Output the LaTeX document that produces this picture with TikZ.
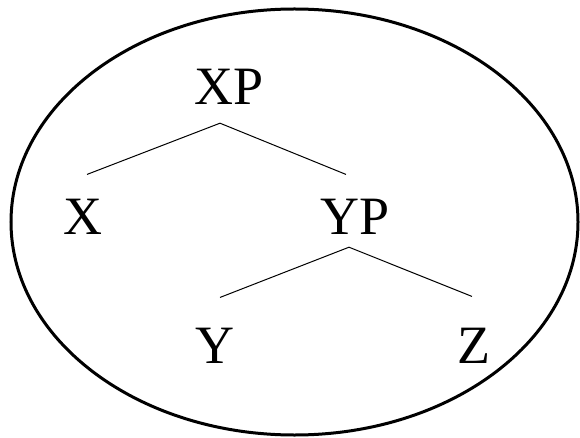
\documentclass[tikz,border=0pt]{standalone}
\usepackage{fontspec}
\setmainfont{Liberation Serif}
\usepackage{tikz}
\usetikzlibrary{positioning}

\begin{document}
\begin{tikzpicture}[x=1pt, y=-1pt,
		cat/.style={inner sep=0pt, anchor=base, font=\fontsize{54}{60}\selectfont},
		branch/.style={line width=1pt}]
		\useasboundingbox (0,0) rectangle (580,438);
		% Outer ellipse:
		\draw[line width=3pt] (294.5,222) ellipse [x radius=283.5pt, y radius=213pt];
		% Categories:
		\node[cat](XP) at (229,105){XP};
		\node[cat](X) at (83,234){X};
		\node[cat](YP) at (355,234){YP};
		\node[cat](Y) at (215,363){Y};
		\node[cat](Z) at (474,363){Z};
		% Branches:
		\draw[branch] ([xshift=4pt, yshift=24pt]X.north) -- ([xshift=-9pt, yshift=-18pt]XP.south)
			-- ([xshift=-9pt, yshift=24pt]YP.north);
		\draw[branch] ([xshift=5pt, yshift=30pt]Y.north) -- ([xshift=-6pt, yshift=-13pt]YP.south)
			-- ([xshift=-2pt, yshift=31pt]Z.north);
	\end{tikzpicture}
\end{document}
